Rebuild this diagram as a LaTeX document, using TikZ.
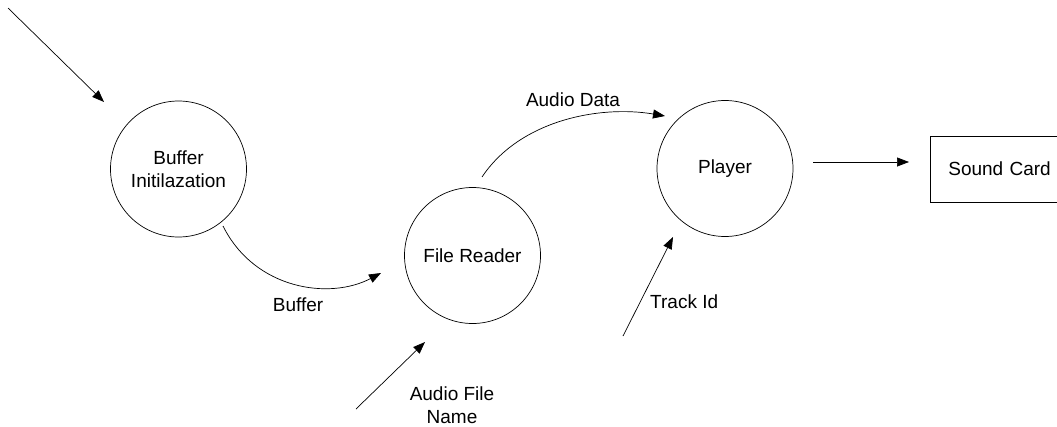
\documentclass[tikz,border=0pt]{standalone}
\usepackage{fontspec}
\setmainfont{Liberation Sans}
\usetikzlibrary{arrows.meta}
\begin{document}
\begin{tikzpicture}[x=1pt,y=-1pt,
  every node/.style={font=\fontsize{19}{23}\selectfont},
  process/.style={draw,circle,line width=0.7pt,minimum size=136pt,inner sep=0pt,align=center},
  store/.style={draw,rectangle,line width=0.7pt,minimum height=66pt,
    text width=200pt,inner xsep=18pt,inner ysep=0pt,align=left},
  flow/.style={line width=0.7pt,-{Triangle[length=12pt,width=9pt]}},
  lbl/.style={inner sep=0pt,align=center}]
  \useasboundingbox (0,0) rectangle (1057,426);
  \clip (0,0) rectangle (1057,426);

  % processes and the external sink
  \node[process] (init) at (178.5,169) {Buffer\\Initilazation};
  \node[process] (reader) at (472.5,255.5) {File Reader};
  \node[process] (player) at (725,168.5) {Player};
  \node[store, anchor=west] (card) at (930,169) {Sound Card};

  % loose ends of the flows
  \coordinate (src)    at (8,8);
  \coordinate (initin) at (104,102);
  \coordinate (bufout) at (223,226);
  \coordinate (bufin)  at (381,273);
  \coordinate (datout) at (482,177);
  \coordinate (datin)  at (665,116);
  \coordinate (namesrc) at (356,409);
  \coordinate (namein)  at (425,342);
  \coordinate (tracksrc) at (623,336);
  \coordinate (trackin)  at (673,237);
  \coordinate (playout) at (813,162);
  \coordinate (cardin)  at (909,162);

  % data flows
  \draw[flow] (src) -- (initin);
  \draw[flow] (bufout) .. controls (255,290) and (330,300) .. (bufin);
  \draw[flow] (datout) .. controls (520,120) and (600,105) .. (datin);
  \draw[flow] (namesrc) -- (namein);
  \draw[flow] (tracksrc) -- (trackin);
  \draw[flow] (playout) -- (cardin);

  % flow labels
  \node[lbl] (lbuf) at (298,305) {Buffer};
  \node[lbl] (ldat) at (573,100) {Audio Data};
  \node[lbl] (lname) at (452,405) {Audio File\\Name};
  \node[lbl, anchor=west] (ltrack) at (650,302) {Track Id};
\end{tikzpicture}
\end{document}
